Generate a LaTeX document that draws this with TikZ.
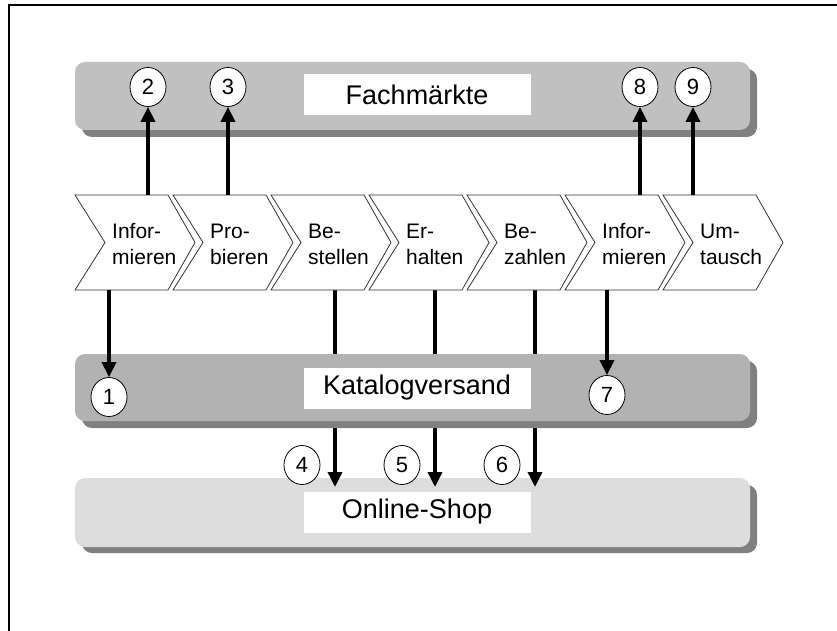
\documentclass[tikz,border=0pt]{standalone}
\usepackage{fontspec}
\setmainfont{Liberation Sans}
\usetikzlibrary{arrows.meta,shapes.geometric}
\definecolor{fachgray}{RGB}{192,192,192}
\definecolor{kataloggray}{RGB}{178,178,178}
\definecolor{shopgray}{RGB}{221,221,221}
\definecolor{shadowgray}{RGB}{128,128,128}
\tikzset{
  bar/.style={rounded corners=10pt},
  barlabel/.style={fill=white,minimum width=227pt,minimum height=41pt,inner sep=0pt,font=\fontsize{27}{30}\selectfont},
  chevron/.style={draw=black!80,fill=white,line width=0.8pt},
  chevtext/.style={align=left,anchor=west,inner sep=0pt,font=\fontsize{21}{26}\selectfont},
  numcirc/.style={ellipse,draw,fill=white,line width=0.8pt,minimum width=36pt,minimum height=39pt,inner sep=0pt,font=\fontsize{22}{24}\selectfont},
  flow/.style={line width=3.5pt,-{Triangle[length=15pt,width=14pt]}}
}
\begin{document}
\begin{tikzpicture}[x=1pt,y=-1pt]
    \useasboundingbox (0,0) rectangle (837,631);
    \draw[line width=2.5pt] (9,631) -- (9,5) -- (837,5);
    % bars
    \fill[bar,shadowgray] (82,69) rectangle (757,137);
    \fill[bar,fachgray] (75,62) rectangle (750,130);
    \fill[bar,shadowgray] (82,485) rectangle (757,553);
    \fill[bar,shopgray] (75,478) rectangle (750,547);
    \coordinate (a4) at (335,290);
    \coordinate (a5) at (435,290);
    \coordinate (a6) at (535,290);
    \coordinate (b4) at (335,487);
    \coordinate (b5) at (435,487);
    \coordinate (b6) at (535,487);
    \draw[flow] (a4) -- (b4);
    \draw[flow] (a5) -- (b5);
    \draw[flow] (a6) -- (b6);
    \fill[bar,shadowgray] (82,361) rectangle (757,428);
    \fill[bar,kataloggray] (75,354) rectangle (750,421);
    \node[barlabel] (fach) at (417,95) {Fachmärkte};
    \node[barlabel] (katalog) at (417,388) {Katalogversand};
    \node[barlabel] (shop) at (417,512) {Online-Shop};
    % process steps
    \foreach \sx in {75,173,271,369,467,565,663}
      \draw[chevron] (\sx,195) -- ++(93,0) -- ++(27,47.5) -- ++(-27,47.5) -- ++(-93,0) -- ++(30,-47.5) -- cycle;
    \node[chevtext] (inf1) at (112,244) {Infor-\\mieren};
    \node[chevtext] (pro) at (210,244) {Pro-\\bieren};
    \node[chevtext] (best) at (308,244) {Be-\\stellen};
    \node[chevtext] (erh) at (406,244) {Er-\\halten};
    \node[chevtext] (bez) at (504,244) {Be-\\zahlen};
    \node[chevtext] (inf2) at (602,244) {Infor-\\mieren};
    \node[chevtext] (umt) at (700,244) {Um-\\tausch};
    % numbers
    \node[numcirc] (n1) at (109,397) {1};
    \node[numcirc] (n2) at (148,87) {2};
    \node[numcirc] (n3) at (228,87) {3};
    \node[numcirc] (n4) at (302,465) {4};
    \node[numcirc] (n5) at (402,465) {5};
    \node[numcirc] (n6) at (502,465) {6};
    \node[numcirc] (n7) at (607,395) {7};
    \node[numcirc] (n8) at (640,87) {8};
    \node[numcirc] (n9) at (693,87) {9};
    \coordinate (a1) at (109,290);
    \coordinate (a2) at (148,195);
    \coordinate (a3) at (228,195);
    \coordinate (a7) at (607,290);
    \coordinate (a8) at (640,195);
    \coordinate (a9) at (693,195);
    \draw[flow] (a1) -- (n1);
    \draw[flow] (a2) -- (n2);
    \draw[flow] (a3) -- (n3);
    \draw[flow] (a7) -- (n7);
    \draw[flow] (a8) -- (n8);
    \draw[flow] (a9) -- (n9);
\end{tikzpicture}
\end{document}
